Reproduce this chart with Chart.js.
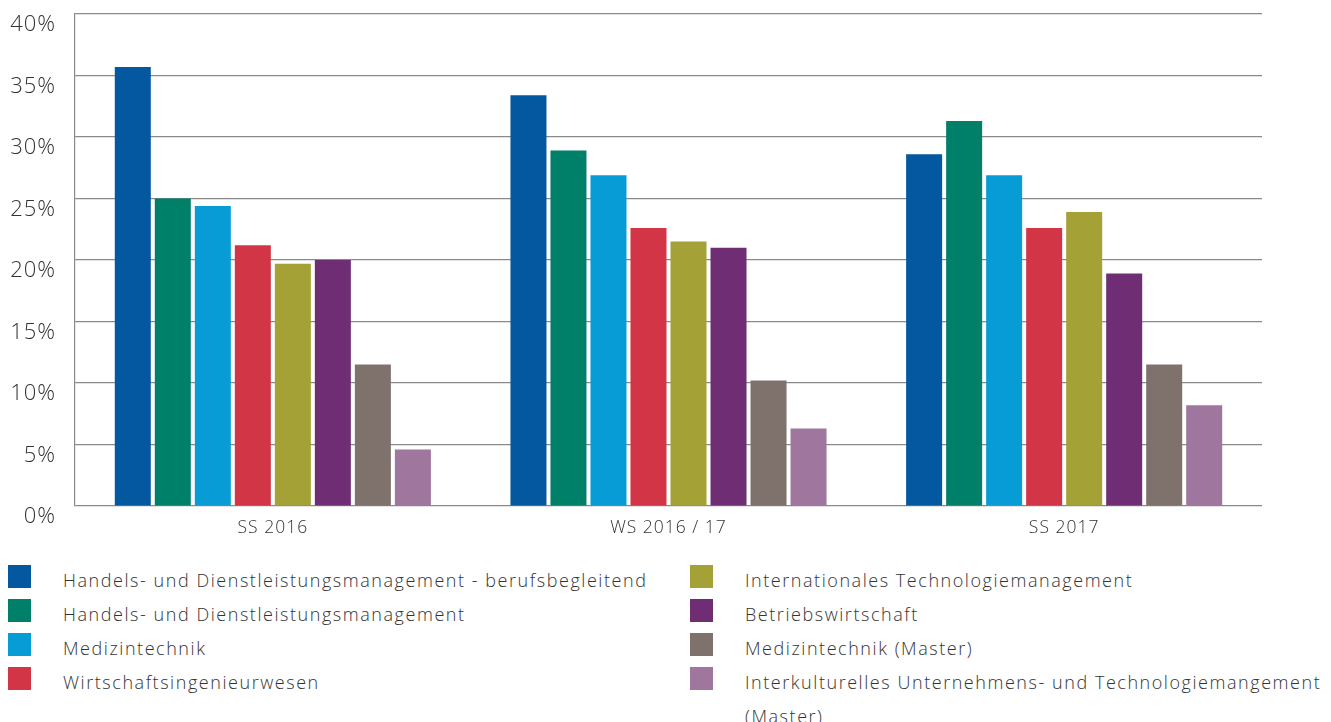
<!DOCTYPE html>
<html>
<head>
<meta charset="utf-8">
<script src="https://cdn.jsdelivr.net/npm/chart.js@4"></script>
<style>
    body { margin: 0; background: #fff; font-family: "Open Sans", sans-serif; }
    #wrap { position: absolute; left: 0; top: 0; width: 1331px; height: 545px; }
    .legend { position: absolute; top: 563px; color: #333; font-size: 18px; font-weight: 300; letter-spacing: 1.55px; }
    .legend .item { position: relative; height: 34px; line-height: 34px; padding-left: 55px; white-space: nowrap; }
    .legend .box { position: absolute; left: 0; top: 2px; width: 23px; height: 23px; }
    .legend .item.wrap { white-space: normal; width: 590px; }
</style>
</head>
<body>
<div id="wrap"><canvas id="chart"></canvas></div>
<div class="legend" id="legend-left" style="left: 8px;"></div>
<div class="legend" id="legend-right" style="left: 690px;"></div>
<script>
// categories (semesters)
const semesters = ['SS 2016', 'WS 2016 / 17', 'SS 2017'];

// study programmes
const programmes = [
    'Handels- und Dienstleistungsmanagement - berufsbegleitend',
    'Handels- und Dienstleistungsmanagement',
    'Medizintechnik',
    'Wirtschaftsingenieurwesen',
    'Internationales Technologiemanagement',
    'Betriebswirtschaft',
    'Medizintechnik (Master)',
    'Interkulturelles Unternehmens- und Technologiemangement (Master)'
];

const colors = ['#0358a0', '#007f69', '#079cd6', '#d23546', '#a4a136', '#6f2e74', '#7f716c', '#9e769e'];

// share in percent, one array per programme (SS 2016, WS 2016/17, SS 2017)
const hdmBerufsbegleitend = [35.7, 33.4, 28.6];
const hdm = [25.0, 28.9, 31.3];
const medizintechnik = [24.4, 26.9, 26.9];
const wirtschaftsing = [21.2, 22.6, 22.6];
const intTechMgmt = [19.7, 21.5, 23.9];
const bwl = [20.0, 21.0, 18.9];
const medizintechnikMaster = [11.5, 10.2, 11.5];
const interkulturellMaster = [4.6, 6.3, 8.2];

const seriesValues = [hdmBerufsbegleitend, hdm, medizintechnik, wirtschaftsing,
    intTechMgmt, bwl, medizintechnikMaster, interkulturellMaster];

const yTicks = [0, 5, 10, 15, 20, 25, 30, 35, 40];

const gridColor = '#8a8a8a';
const textColor = '#333333';

// wider letter spacing on the canvas text, closer to the original typeface
const spacingPlugin = {
    id: 'spacing',
    beforeDraw: function (chart) { chart.ctx.letterSpacing = '1px'; }
};

const ctx = document.getElementById('chart').getContext('2d');
new Chart(ctx, {
    type: 'bar',
    data: {
        labels: semesters,
        datasets: programmes.map((name, i) => ({
            label: name,
            data: seriesValues[i],
            backgroundColor: colors[i],
            borderWidth: 0,
            barPercentage: 0.9,
            categoryPercentage: 0.809
        }))
    },
    options: {
        responsive: true,
        maintainAspectRatio: false,
        animation: false,
        layout: { padding: { top: 14, right: 69, left: 0, bottom: 0 } },
        plugins: {
            legend: { display: false },
            tooltip: { enabled: false }
        },
        scales: {
            x: {
                grid: { display: false, drawTicks: false },
                border: { display: false },
                ticks: {
                    color: textColor,
                    padding: 12,
                    font: { family: 'Open Sans', size: 17.5, weight: 300 }
                },
                afterFit: function (scale) { scale.height = 39; }
            },
            y: {
                min: 0,
                max: 40,
                afterBuildTicks: function (scale) {
                    scale.ticks = yTicks.map(v => ({ value: v }));
                },
                grid: { color: gridColor, lineWidth: 1.2, drawTicks: false },
                border: { display: true, color: gridColor, width: 1.2 },
                ticks: {
                    color: textColor,
                    padding: 19,
                    labelOffset: 11,
                    font: { family: 'Open Sans', size: 22, weight: 300 },
                    callback: v => v + '%'
                },
                afterFit: function (scale) {
                    scale.width = 75;
                    scale.paddingTop = 0;
                    scale.paddingBottom = 0;
                }
            }
        }
    },
    plugins: [spacingPlugin]
});

// legend in two columns below the chart
function buildLegend(el, from, to) {
    for (let i = from; i < to; i++) {
        const item = document.createElement('div');
        item.className = 'item' + (programmes[i].length > 60 ? ' wrap' : '');
        const box = document.createElement('span');
        box.className = 'box';
        box.style.background = colors[i];
        item.appendChild(box);
        item.appendChild(document.createTextNode(programmes[i]));
        el.appendChild(item);
    }
}
buildLegend(document.getElementById('legend-left'), 0, 4);
buildLegend(document.getElementById('legend-right'), 4, 8);
</script>
</body>
</html>
